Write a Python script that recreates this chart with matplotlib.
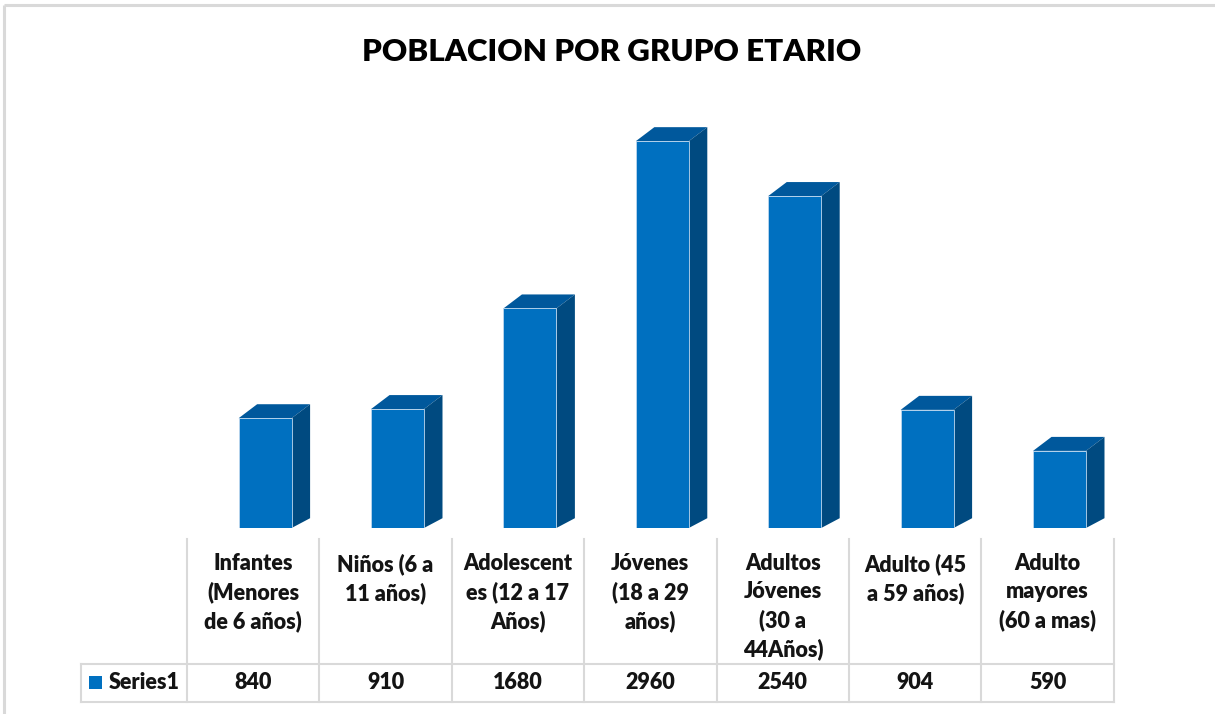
import matplotlib.pyplot as plt
import numpy as np
from matplotlib.patches import Polygon, Rectangle

# data
categories = ["Infantes\n(Menores\nde 6 años)", "Niños (6 a\n11 años)",
              "Adolescent\nes (12 a 17\nAños)", "Jóvenes\n(18 a 29\naños)",
              "Adultos\nJóvenes\n(30 a\n44Años)", "Adulto (45\na 59 años)",
              "Adulto\nmayores\n(60 a mas)"]
values = [840, 910, 1680, 2960, 2540, 904, 590]
series_name = "Series1"
title = "POBLACION POR GRUPO ETARIO"

FRONT = '#0070C0'
TOP = '#00589C'
SIDE = '#004A80'
GRID = '#D9D9D9'
TXT = '#141414'

plt.rcParams['font.family'] = ['Lato', 'DejaVu Sans']

W, H = 1215, 714
fig = plt.figure(figsize=(W / 100, H / 100), dpi=100)

# table layout (pixels)
tab_left, col_w = 187, 132.4
n = len(values)
tab_right = tab_left + n * col_w
hdr_top, row_mid, row_bot, leg_left = 539, 664, 701.5, 80.7
base_y, top_y = 528, 100

# ---- bars (pseudo 3D) ----
ax = fig.add_axes([tab_left / W, (H - base_y) / H, (tab_right - tab_left) / W, (base_y - top_y) / H])
ymax = 3275
ax.set_xlim(-0.5, n - 0.5)
ax.set_ylim(0, ymax)
ax.axis('off')

x = np.arange(n)
off, bw = 0.09, 0.40
dx = 18.5 / col_w
dy = 14 * ymax / (base_y - top_y)
ax.bar(x + off, values, width=bw, color=FRONT, edgecolor='#BDD7EE', linewidth=0.6, zorder=3)
for xi, v in zip(x, values):
    l, r = xi + off - bw / 2, xi + off + bw / 2
    ax.add_patch(Polygon([(l, v), (r, v), (r + dx, v + dy), (l + dx, v + dy)],
                         closed=True, facecolor=TOP, edgecolor='none', zorder=2))
    ax.add_patch(Polygon([(r, 0), (r + dx, dy * 0.7), (r + dx, v + dy), (r, v)],
                         closed=True, facecolor=SIDE, edgecolor='none', zorder=2))

# ---- overlay for title, table and frame ----
ov = fig.add_axes([0, 0, 1, 1], zorder=5)
ov.set_xlim(0, W)
ov.set_ylim(H, 0)
ov.axis('off')
ov.patch.set_alpha(0)

# outer frame (only top and left visible)
ov.plot([4, 4], [H, 5], color=GRID, lw=2.2, solid_capstyle='butt')
ov.plot([4, W], [5, 5], color=GRID, lw=2.2, solid_capstyle='butt')

ov.text(612, 52, title, ha='center', va='center', fontsize=22.5, fontweight='heavy', color='black')

# table grid
for i in range(n + 1):
    xl = tab_left + i * col_w
    ov.plot([xl, xl], [hdr_top, row_bot], color=GRID, lw=1.5)
ov.plot([leg_left, tab_right], [row_mid, row_mid], color=GRID, lw=1.5)
ov.plot([leg_left, tab_right], [row_bot, row_bot], color=GRID, lw=1.5)
ov.plot([leg_left, leg_left], [row_mid, row_bot], color=GRID, lw=1.5)

for i, (c, v) in enumerate(zip(categories, values)):
    cx = tab_left + (i + 0.5) * col_w
    ov.text(cx, 553, c, ha='center', va='top', fontsize=15.5, fontweight='heavy',
            linespacing=1.41, color=TXT)
    ov.text(cx, (row_mid + row_bot) / 2, f"{v}", ha='center', va='center',
            fontsize=15.5, fontweight='heavy', color=TXT)

ov.add_patch(Rectangle((88.5, 676), 13, 13, facecolor=FRONT, edgecolor='none'))
ov.text(109, (row_mid + row_bot) / 2, series_name, ha='left', va='center',
        fontsize=15.5, fontweight='heavy', color=TXT)

fig.savefig('out.png', dpi=100, facecolor='white')
